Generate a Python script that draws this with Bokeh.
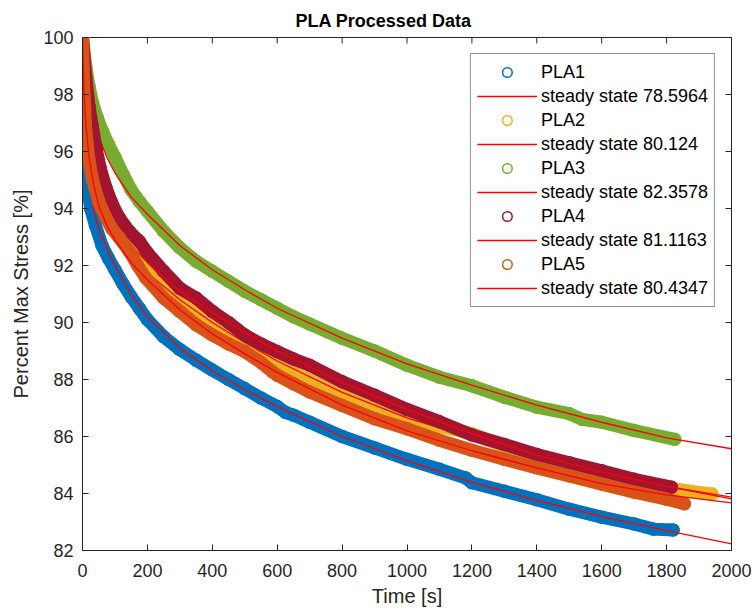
import math
from bokeh.plotting import figure
from bokeh.models import Range1d, FixedTicker, Legend, LegendItem
from bokeh.embed import file_html
from bokeh.resources import INLINE

# ---- data ----
names = ["PLA1", "PLA2", "PLA3", "PLA4", "PLA5"]
steady = ["78.5964", "80.124", "82.3578", "81.1163", "80.4347"]
colors = ["#0072BD", "#EDB120", "#77AC30", "#A2142F", "#D95319"]

t1 = [0, 3, 8, 15, 25, 40, 60, 80, 100, 125, 150, 175, 200, 250, 300, 350, 400, 450, 500, 550, 600, 625, 650, 700,
      800, 900, 1000, 1100, 1180, 1200, 1300, 1400, 1500, 1600, 1700, 1760, 1820]
y1 = [100, 97.5, 95.8, 94.8, 94.0, 93.4, 92.7, 92.25, 91.85, 91.35, 90.9, 90.5, 90.1, 89.5, 89.05, 88.68, 88.33, 88.0,
      87.68, 87.35, 87.05, 86.85, 86.75, 86.5, 86.0, 85.6, 85.2, 84.85, 84.55, 84.38, 84.08, 83.78, 83.45, 83.17,
      82.93, 82.75, 82.72]

t2 = [0, 10, 20, 30, 45, 60, 80, 100, 125, 150, 175, 200, 250, 300, 350, 400, 450, 500, 550, 600, 650, 700, 800, 900,
      1000, 1100, 1200, 1300, 1400, 1500, 1600, 1700, 1800, 1870, 1940]
y2 = [100, 97.5, 96.4, 95.7, 94.9, 94.3, 93.7, 93.3, 92.9, 92.5, 92.2, 91.95, 91.35, 90.86, 90.4, 90.0, 89.6, 89.27,
      88.9, 88.55, 88.25, 87.98, 87.45, 87.05, 86.7, 86.35, 86.1, 85.65, 85.3, 85.0, 84.7, 84.45, 84.2, 84.08, 83.98]

t3 = [0, 10, 20, 31, 45, 62, 80, 100, 125, 150, 175, 200, 250, 300, 350, 400, 450, 500, 550, 600, 650, 700, 800, 900,
      1000, 1100, 1200, 1300, 1400, 1500, 1540, 1600, 1700, 1825]
y3 = [100, 99.0, 98.3, 97.7, 97.2, 96.7, 96.25, 95.8, 95.2, 94.65, 94.25, 93.9, 93.2, 92.62, 92.15, 91.8, 91.45, 91.1,
      90.8, 90.5, 90.2, 89.95, 89.45, 89.0, 88.5, 88.08, 87.78, 87.38, 87.03, 86.8, 86.6, 86.5, 86.21, 85.9]

t4 = [0, 10, 20, 30, 41, 55, 72, 90, 113, 144, 175, 200, 250, 300, 350, 400, 450, 500, 550, 600, 650, 700, 800, 900,
      1000, 1100, 1200, 1300, 1400, 1500, 1600, 1700, 1815]
y4 = [100, 98.6, 97.6, 96.9, 96.15, 95.4, 94.74, 94.2, 93.68, 93.2, 92.85, 92.45, 91.8, 91.2, 90.86, 90.39, 90.0, 89.56,
      89.25, 88.98, 88.72, 88.5, 87.92, 87.45, 86.95, 86.52, 86.05, 85.72, 85.37, 85.08, 84.8, 84.5, 84.22]

t5 = [0, 3, 10, 20, 31, 50, 72, 90, 113, 144, 170, 195, 250, 300, 350, 400, 450, 500, 550, 585, 600, 650, 700, 800,
      900, 1000, 1100, 1200, 1300, 1400, 1500, 1600, 1700, 1800, 1855]
y5 = [100, 98.5, 96.74, 95.7, 95.0, 94.25, 93.68, 93.3, 92.98, 92.5, 92.0, 91.56, 90.86, 90.39, 89.92, 89.56, 89.25,
      88.98, 88.6, 88.27, 88.15, 87.85, 87.56, 87.09, 86.62, 86.27, 85.87, 85.52, 85.2, 84.9, 84.62, 84.33, 84.05,
      83.8, 83.64]

# fitted curves (red)
tf = [0, 5, 10, 20, 35, 50, 75, 100, 150, 200, 300, 400, 500, 600, 800, 1000, 1200, 1400, 1600, 1800, 2000]
f1 = [100, 97.2, 96.0, 94.9, 93.9, 93.3, 92.6, 92.0, 91.0, 90.2, 89.1, 88.3, 87.65, 87.05, 86.0, 85.15, 84.4, 83.75,
      83.2, 82.7, 82.23]
f2 = [100, 98.2, 97.3, 96.2, 95.2, 94.5, 93.7, 93.15, 92.35, 91.75, 90.8, 90.0, 89.3, 88.65, 87.55, 86.65, 85.95, 85.3,
      84.75, 84.25, 83.81]
f3 = [100, 99.0, 98.5, 97.8, 97.1, 96.5, 95.8, 95.25, 94.4, 93.8, 92.7, 91.85, 91.15, 90.5, 89.45, 88.55, 87.8, 87.1,
      86.5, 85.95, 85.57]
f4 = [100, 98.4, 97.6, 96.5, 95.5, 94.8, 94.0, 93.5, 92.7, 92.1, 91.1, 90.35, 89.65, 89.0, 87.9, 86.95, 86.1, 85.35,
      84.75, 84.25, 83.87]
f5 = [100, 98.0, 97.0, 95.8, 94.8, 94.1, 93.4, 92.9, 92.1, 91.5, 90.45, 89.6, 88.9, 88.25, 87.1, 86.2, 85.5, 84.9,
      84.35, 83.95, 83.67]

x_ticks = [0, 200, 400, 600, 800, 1000, 1200, 1400, 1600, 1800, 2000]
y_ticks = [82, 84, 86, 88, 90, 92, 94, 96, 98, 100]
x_min, x_max = 0, 2000
y_min, y_max = 82, 100

FONT = "Liberation Sans"
AX = "#262626"

p = figure(width=752, height=614, x_range=Range1d(x_min, x_max), y_range=Range1d(y_min, y_max),
           output_backend="svg", toolbar_location=None,
           min_border_left=82, min_border_right=21, min_border_top=37, min_border_bottom=64)
p.xgrid.visible = False
p.ygrid.visible = False
p.outline_line_color = AX
p.outline_line_width = 1
p.background_fill_color = "white"
p.border_fill_color = "white"

p.title.text = "PLA Processed Data"
p.title.text_font = FONT
p.title.text_font_size = "18px"
p.title.text_font_style = "bold"
p.title.text_color = "#000000"
p.title.align = "left"
p.title.offset = 213
p.title.standoff = 13


def style_axis(ax, ticks):
    ax.ticker = FixedTicker(ticks=ticks)
    ax.major_tick_in = 6
    ax.major_tick_out = 0
    ax.minor_tick_line_color = None
    ax.axis_line_color = AX
    ax.major_tick_line_color = AX
    ax.major_label_text_font = FONT
    ax.major_label_text_color = AX
    ax.major_label_text_font_size = "18px"
    ax.axis_label_text_font = FONT
    ax.axis_label_text_font_size = "20px"
    ax.axis_label_text_font_style = "normal"
    ax.axis_label_text_color = AX


style_axis(p.xaxis[0], x_ticks)
style_axis(p.yaxis[0], y_ticks)
p.xaxis[0].axis_label = "Time [s]"
p.yaxis[0].axis_label = "Percent Max Stress [%]"
p.xaxis[0].major_label_standoff = 13
p.yaxis[0].major_label_standoff = 9
p.xaxis[0].axis_label_standoff = 5
p.yaxis[0].axis_label_standoff = 8

series_t = [t1, t2, t3, t4, t5]
series_y = [y1, y2, y3, y4, y5]
fits = [f1, f2, f3, f4, f5]

items = []
for name, ss, c, tt, yy, ff in zip(names, steady, colors, series_t, series_y, fits):
    p.line(tt, yy, line_color=c, line_width=13, line_join="round", line_cap="round")
    sc = p.scatter(tt, yy, marker="circle", size=12, line_color=c, line_width=1.5, fill_color=None)
    fl = p.line(tf, ff, line_color="red", line_width=1.3, line_alpha=1.0)
    items.append(LegendItem(label=name, renderers=[sc]))
    items.append(LegendItem(label="steady state " + ss, renderers=[fl]))

# box ticks on the top and right edges (clipped by the frame so they point inward)
p.scatter(x_ticks, [y_max] * len(x_ticks), marker="dash", size=12, angle=math.pi / 2,
          line_color=AX, line_width=1)
p.scatter([x_max] * len(y_ticks), y_ticks, marker="dash", size=12, angle=0,
          line_color=AX, line_width=1)

legend = Legend(items=items, location="top_right")
legend.margin = 16
legend.padding = 6
legend.spacing = 0
legend.glyph_width = 60
legend.glyph_height = 24
legend.label_height = 24
legend.label_standoff = 4
legend.label_text_font = FONT
legend.label_text_font_size = "18px"
legend.label_text_color = "#000000"
legend.border_line_color = AX
legend.border_line_width = 1
legend.background_fill_color = "white"
legend.background_fill_alpha = 1.0
p.add_layout(legend, "center")

open("out.html", "w").write(file_html(p, INLINE))
